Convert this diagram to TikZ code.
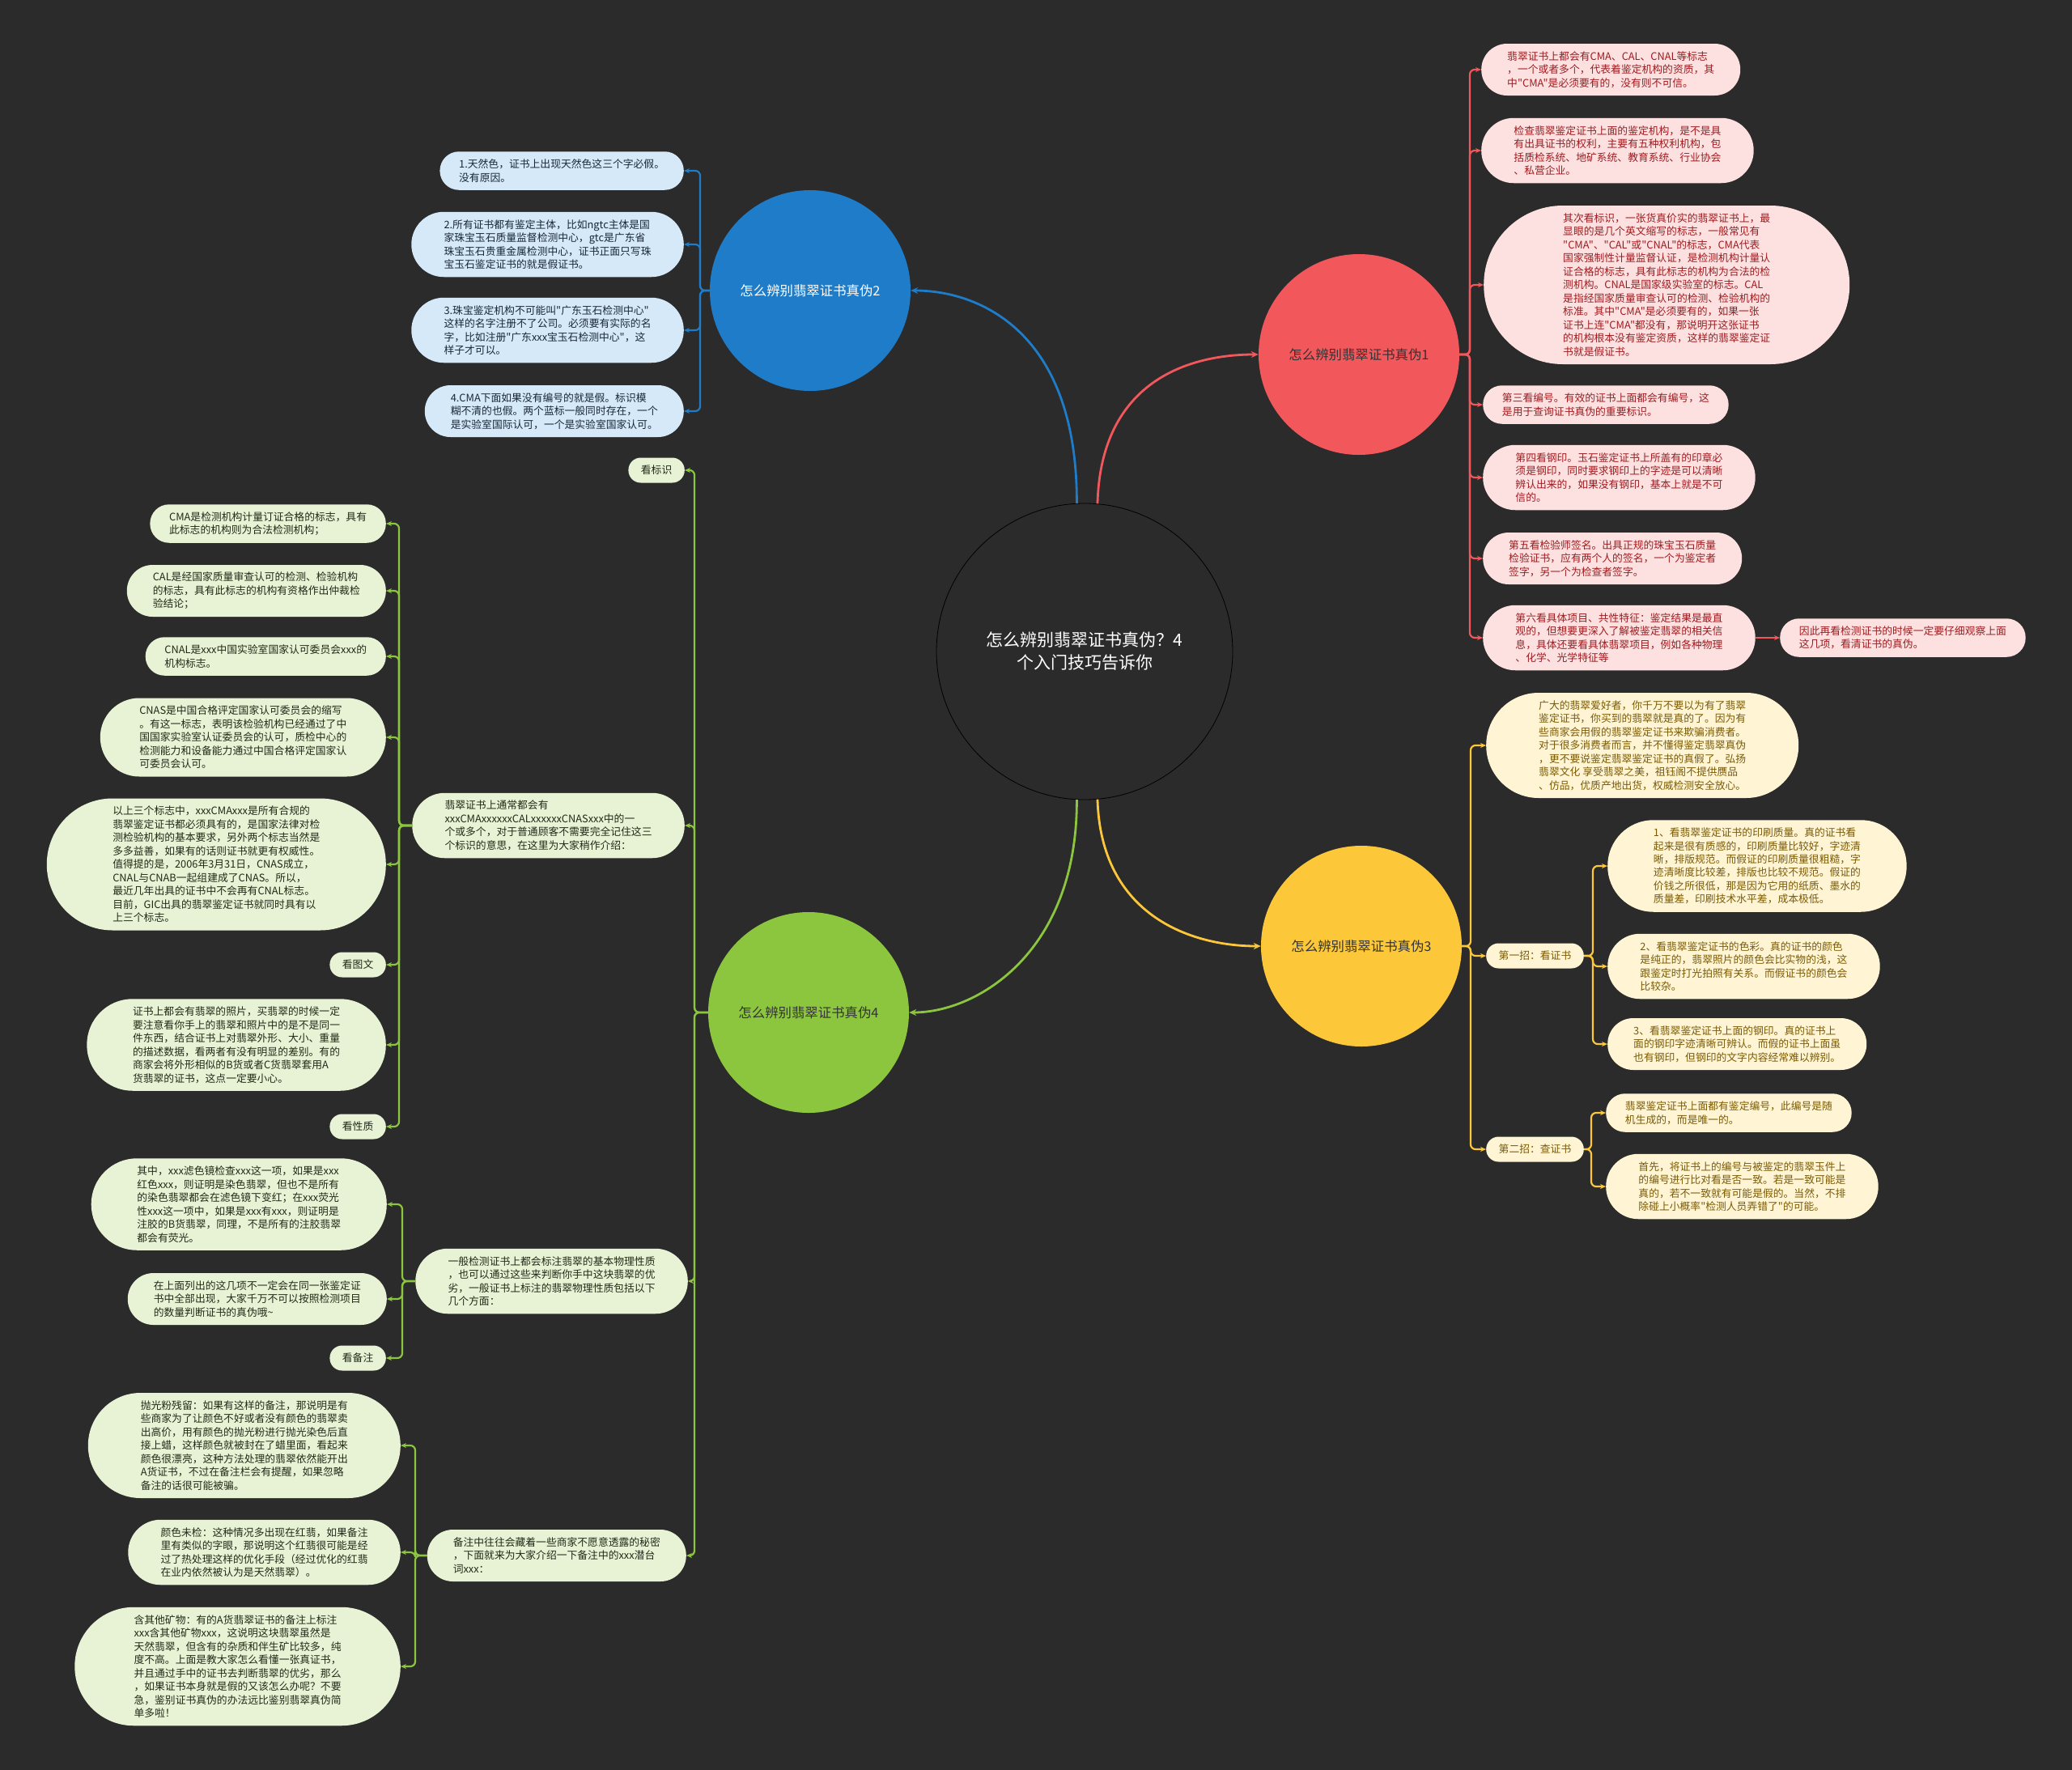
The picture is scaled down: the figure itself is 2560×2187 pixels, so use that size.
\documentclass[tikz,border=0pt]{standalone}
\usepackage{fontspec}
\setmainfont{Noto Sans CJK SC}[Ligatures=TeXOff]
\usetikzlibrary{arrows.meta}
\definecolor{bg}{HTML}{2B2B2B}
\definecolor{cblue}{HTML}{1E7CC8}
\definecolor{cred}{HTML}{F2575C}
\definecolor{cyel}{HTML}{FCC83A}
\definecolor{cgrn}{HTML}{8CC63F}
\definecolor{bfill}{HTML}{D5E9F8}
\definecolor{btext}{HTML}{1A2838}
\definecolor{rfill}{HTML}{FDE1E1}
\definecolor{rtext}{HTML}{9E1B1F}
\definecolor{yfill}{HTML}{FFF5D4}
\definecolor{ytext}{HTML}{7A5A05}
\definecolor{gfill}{HTML}{E8F3D5}
\definecolor{gtext}{HTML}{202A18}
\begin{document}
\begin{tikzpicture}[x=1pt,y=-1pt,
  leaf/.style={rectangle, inner ysep=6pt, align=left, font=\fontsize{12.8}{16.5}\selectfont},
  ln/.style={minimum height={31+16.5*(#1-1)}, inner xsep={15.5+8.25*(#1-1)}, rounded corners={15.3+8.25*(#1-1)}},
  bleaf/.style={leaf, fill=bfill, text=btext},
  rleaf/.style={leaf, fill=rfill, text=rtext},
  yleaf/.style={leaf, fill=yfill, text=ytext},
  gleaf/.style={leaf, fill=gfill, text=gtext},
  mainnode/.style={circle, inner sep=0pt, minimum size=248pt, font=\fontsize{16.4}{20}\selectfont},
  conn/.style={line width=2.2pt, rounded corners=6pt, -{Stealth[length=7pt,width=6pt]}},
  mconn/.style={line width=2.8pt, -{Stealth[length=9pt,width=8pt]}},
  bc/.style={conn, draw=cblue}, rc/.style={conn, draw=cred},
  yc/.style={conn, draw=cyel}, gc/.style={conn, draw=cgrn}]
\useasboundingbox (0,0) rectangle (2560,2187);
\fill[bg] (0,0) rectangle (2560,2187);

% centre and main topics
\node[circle, draw=black, line width=0.8pt, fill=bg, minimum size=366pt, inner sep=0pt, text=white, align=center, font=\fontsize{21}{28}\selectfont] (c) at (1340,805) {怎么辨别翡翠证书真伪？4\\个入门技巧告诉你};
\node[mainnode, fill=cblue, text=white] (n2) at (1001,359) {怎么辨别翡翠证书真伪2};
\node[mainnode, fill=cred, text=black!80] (n1) at (1679,438) {怎么辨别翡翠证书真伪1};
\node[mainnode, fill=cyel, text=black!80] (n3) at (1682,1169) {怎么辨别翡翠证书真伪3};
\node[mainnode, fill=cgrn, text=black!80] (n4) at (999,1251) {怎么辨别翡翠证书真伪4};

\draw[mconn, draw=cblue] (c.93) .. controls (1331,408) and (1208,359) .. (n2.east);
\draw[mconn, draw=cred] (c.85) .. controls (1360,470) and (1470,438) .. (n1.west);
\draw[mconn, draw=cyel] (c.275) .. controls (1360,1130) and (1470,1169) .. (n3.west);
\draw[mconn, draw=cgrn] (c.267) .. controls (1331,1176) and (1208,1251) .. (n4.east);

% spine coordinates
\coordinate (bs) at (865,359);
\coordinate (rs) at (1816,438);
\coordinate (ys) at (1817,1169);
\coordinate (ys1) at (1968,1181);
\coordinate (ys2) at (1966,1420);
\coordinate (gs) at (858,1251);
\coordinate (gs1) at (493,1020);
\coordinate (gs2) at (497,1583);
\coordinate (gs3) at (513,1922);

% blue branch
\node[bleaf, ln=2, anchor=east] (b1) at (845,211) {1.天然色，证书上出现天然色这三个字必假。\\没有原因。};
\node[bleaf, ln=4, anchor=east] (b2) at (845,302) {2.所有证书都有鉴定主体，比如ngtc主体是国\\家珠宝玉石质量监督检测中心，gtc是广东省\\珠宝玉石贵重金属检测中心，证书正面只写珠\\宝玉石鉴定证书的就是假证书。};
\node[bleaf, ln=4, anchor=east] (b3) at (845,408) {3.珠宝鉴定机构不可能叫"广东玉石检测中心"\\这样的名字注册不了公司。必须要有实际的名\\字，比如注册"广东xxx宝玉石检测中心"，这\\样子才可以。};
\node[bleaf, ln=3, anchor=east] (b4) at (845,508) {4.CMA下面如果没有编号的就是假。标识模\\糊不清的也假。两个蓝标一般同时存在，一个\\是实验室国际认可，一个是实验室国家认可。};
\foreach \t in {b1,b2,b3,b4} \draw[bc] (n2.west) -- (n2.west -| bs) |- (\t.east);

% red branch
\node[rleaf, ln=3, anchor=west] (r1) at (1830,86) {翡翠证书上都会有CMA、CAL、CNAL等标志\\，一个或者多个，代表着鉴定机构的资质，其\\中"CMA"是必须要有的，没有则不可信。};
\node[rleaf, ln=4, anchor=west] (r2) at (1830,186) {检查翡翠鉴定证书上面的鉴定机构，是不是具\\有出具证书的权利，主要有五种权利机构，包\\括质检系统、地矿系统、教育系统、行业协会\\、私营企业。};
\node[rleaf, ln=11, anchor=west] (r3) at (1833,352) {其次看标识，一张货真价实的翡翠证书上，最\\显眼的是几个英文缩写的标志，一般常见有\\"CMA"、"CAL"或"CNAL"的标志，CMA代表\\国家强制性计量监督认证，是检测机构计量认\\证合格的标志，具有此标志的机构为合法的检\\测机构。CNAL是国家级实验室的标志。CAL\\是指经国家质量审查认可的检测、检验机构的\\标准。其中"CMA"是必须要有的，如果一张\\证书上连"CMA"都没有，那说明开这张证书\\的机构根本没有鉴定资质，这样的翡翠鉴定证\\书就是假证书。};
\node[rleaf, ln=2, anchor=west] (r4) at (1832,500) {第三看编号。有效的证书上面都会有编号，这\\是用于查询证书真伪的重要标识。};
\node[rleaf, ln=4, anchor=west] (r5) at (1832,590) {第四看钢印。玉石鉴定证书上所盖有的印章必\\须是钢印，同时要求钢印上的字迹是可以清晰\\辨认出来的，如果没有钢印，基本上就是不可\\信的。};
\node[rleaf, ln=3, anchor=west] (r6) at (1832,690) {第五看检验师签名。出具正规的珠宝玉石质量\\检验证书，应有两个人的签名，一个为鉴定者\\签字，另一个为检查者签字。};
\node[rleaf, ln=4, anchor=west] (r7) at (1832,788) {第六看具体项目、共性特征：鉴定结果是最直\\观的，但想要更深入了解被鉴定翡翠的相关信\\息，具体还要看具体翡翠项目，例如各种物理\\、化学、光学特征等};
\node[rleaf, ln=2, anchor=west] (r8) at (2199,788) {因此再看检测证书的时候一定要仔细观察上面\\这几项，看清证书的真伪。};
\foreach \t in {r1,r2,r3,r4,r5,r6,r7} \draw[rc] (n1.east) -- (n1.east -| rs) |- (\t.west);
\draw[rc] (r7.east) -- (r8.west);

% yellow branch
\node[yleaf, ln=7, anchor=west] (y1) at (1836,921) {广大的翡翠爱好者，你千万不要以为有了翡翠\\鉴定证书，你买到的翡翠就是真的了。因为有\\些商家会用假的翡翠鉴定证书来欺骗消费者。\\对于很多消费者而言，并不懂得鉴定翡翠真伪\\，更不要说鉴定翡翠鉴定证书的真假了。弘扬\\翡翠文化 享受翡翠之美，祖钰阁不提供赝品\\、仿品，优质产地出货，权威检测安全放心。};
\node[yleaf, ln=1, anchor=west] (y2) at (1836,1181) {第一招：看证书};
\node[yleaf, ln=1, anchor=west] (y6) at (1836,1420) {第二招：查证书};
\node[yleaf, ln=6, anchor=west] (y3) at (1986,1070) {1、看翡翠鉴定证书的印刷质量。真的证书看\\起来是很有质感的，印刷质量比较好，字迹清\\晰，排版规范。而假证的印刷质量很粗糙，字\\迹清晰度比较差，排版也比较不规范。假证的\\价钱之所很低，那是因为它用的纸质、墨水的\\质量差，印刷技术水平差，成本极低。};
\node[yleaf, ln=4, anchor=west] (y4) at (1986,1194) {2、看翡翠鉴定证书的色彩。真的证书的颜色\\是纯正的，翡翠照片的颜色会比实物的浅，这\\跟鉴定时打光拍照有关系。而假证书的颜色会\\比较杂。};
\node[yleaf, ln=3, anchor=west] (y5) at (1986,1290) {3、看翡翠鉴定证书上面的钢印。真的证书上\\面的钢印字迹清晰可辨认。而假的证书上面虽\\也有钢印，但钢印的文字内容经常难以辨别。};
\node[yleaf, ln=2, anchor=west] (y7) at (1984,1375) {翡翠鉴定证书上面都有鉴定编号，此编号是随\\机生成的，而是唯一的。};
\node[yleaf, ln=4, anchor=west] (y8) at (1984,1466) {首先，将证书上的编号与被鉴定的翡翠玉件上\\的编号进行比对看是否一致。若是一致可能是\\真的，若不一致就有可能是假的。当然，不排\\除碰上小概率"检测人员弄错了"的可能。};
\foreach \t in {y1,y2,y6} \draw[yc] (n3.east) -- (n3.east -| ys) |- (\t.west);
\foreach \t in {y3,y4,y5} \draw[yc] (y2.east) -- (y2.east -| ys1) |- (\t.west);
\foreach \t in {y7,y8} \draw[yc] (y6.east) -- (y6.east -| ys2) |- (\t.west);

% green branch, level 2
\node[gleaf, ln=1, anchor=east] (g1) at (846,581) {看标识};
\node[gleaf, ln=4, anchor=east] (g2) at (846,1020) {翡翠证书上通常都会有\\xxxCMAxxxxxxCALxxxxxxCNASxxx中的一\\个或多个，对于普通顾客不需要完全记住这三\\个标识的意思，在这里为大家稍作介绍：};
\node[gleaf, ln=4, anchor=east] (g3) at (850,1583) {一般检测证书上都会标注翡翠的基本物理性质\\，也可以通过这些来判断你手中这块翡翠的优\\劣，一般证书上标注的翡翠物理性质包括以下\\几个方面：};
\node[gleaf, ln=3, anchor=east] (g4) at (848,1922) {备注中往往会藏着一些商家不愿意透露的秘密\\，下面就来为大家介绍一下备注中的xxx潜台\\词xxx：};
\foreach \t in {g1,g2,g3,g4} \draw[gc] (n4.west) -- (n4.west -| gs) |- (\t.east);

% children of g2
\node[gleaf, ln=2, anchor=east] (a1) at (477,647) {CMA是检测机构计量订证合格的标志，具有\\此标志的机构则为合法检测机构；};
\node[gleaf, ln=3, anchor=east] (a2) at (477,730) {CAL是经国家质量审查认可的检测、检验机构\\的标志，具有此标志的机构有资格作出仲裁检\\验结论；};
\node[gleaf, ln=2, anchor=east] (a3) at (477,811) {CNAL是xxx中国实验室国家认可委员会xxx的\\机构标志。};
\node[gleaf, ln=5, anchor=east] (a4) at (477,911) {CNAS是中国合格评定国家认可委员会的缩写\\。有这一标志，表明该检验机构已经通过了中\\国国家实验室认证委员会的认可，质检中心的\\检测能力和设备能力通过中国合格评定国家认\\可委员会认可。};
\node[gleaf, ln=9, anchor=east] (a5) at (477,1068) {以上三个标志中，xxxCMAxxx是所有合规的\\翡翠鉴定证书都必须具有的，是国家法律对检\\测检验机构的基本要求，另外两个标志当然是\\多多益善，如果有的话则证书就更有权威性。\\值得提的是，2006年3月31日，CNAS成立，\\CNAL与CNAB一起组建成了CNAS。所以，\\最近几年出具的证书中不会再有CNAL标志。\\目前，GIC出具的翡翠鉴定证书就同时具有以\\上三个标志。};
\node[gleaf, ln=1, anchor=east] (a6) at (477,1192) {看图文};
\node[gleaf, ln=6, anchor=east] (a7) at (477,1291) {证书上都会有翡翠的照片，买翡翠的时候一定\\要注意看你手上的翡翠和照片中的是不是同一\\件东西，结合证书上对翡翠外形、大小、重量\\的描述数据，看两者有没有明显的差别。有的\\商家会将外形相似的B货或者C货翡翠套用A\\货翡翠的证书，这点一定要小心。};
\node[gleaf, ln=1, anchor=east] (a8) at (477,1392) {看性质};
\foreach \t in {a1,a2,a3,a4,a5,a6,a7,a8} \draw[gc] (g2.west) -- (g2.west -| gs1) |- (\t.east);

% children of g3
\node[gleaf, ln=6, anchor=east] (e1) at (478,1488) {其中，xxx滤色镜检查xxx这一项，如果是xxx\\红色xxx，则证明是染色翡翠，但也不是所有\\的染色翡翠都会在滤色镜下变红；在xxx荧光\\性xxx这一项中，如果是xxx有xxx，则证明是\\注胶的B货翡翠，同理，不是所有的注胶翡翠\\都会有荧光。};
\node[gleaf, ln=3, anchor=east] (e2) at (478,1605) {在上面列出的这几项不一定会在同一张鉴定证\\书中全部出现，大家千万不可以按照检测项目\\的数量判断证书的真伪哦\textasciitilde};
\node[gleaf, ln=1, anchor=east] (e3) at (477,1678) {看备注};
\foreach \t in {e1,e2,e3} \draw[gc] (g3.west) -- (g3.west -| gs2) |- (\t.east);

% children of g4
\node[gleaf, ln=7, anchor=east] (f1) at (495,1786) {抛光粉残留：如果有这样的备注，那说明是有\\些商家为了让颜色不好或者没有颜色的翡翠卖\\出高价，用有颜色的抛光粉进行抛光染色后直\\接上蜡，这样颜色就被封在了蜡里面，看起来\\颜色很漂亮，这种方法处理的翡翠依然能开出\\A货证书，不过在备注栏会有提醒，如果忽略\\备注的话很可能被骗。};
\node[gleaf, ln=4, anchor=east] (f2) at (495,1918) {颜色未检：这种情况多出现在红翡，如果备注\\里有类似的字眼，那说明这个红翡很可能是经\\过了热处理这样的优化手段（经过优化的红翡\\在业内依然被认为是天然翡翠）。};
\node[gleaf, ln=8, anchor=east] (f3) at (495,2059) {含其他矿物：有的A货翡翠证书的备注上标注\\xxx含其他矿物xxx，这说明这块翡翠虽然是\\天然翡翠，但含有的杂质和伴生矿比较多，纯\\度不高。上面是教大家怎么看懂一张真证书，\\并且通过手中的证书去判断翡翠的优劣，那么\\，如果证书本身就是假的又该怎么办呢？不要\\急，鉴别证书真伪的办法远比鉴别翡翠真伪简\\单多啦！};
\foreach \t in {f1,f2,f3} \draw[gc] (g4.west) -- (g4.west -| gs3) |- (\t.east);
\end{tikzpicture}
\end{document}
